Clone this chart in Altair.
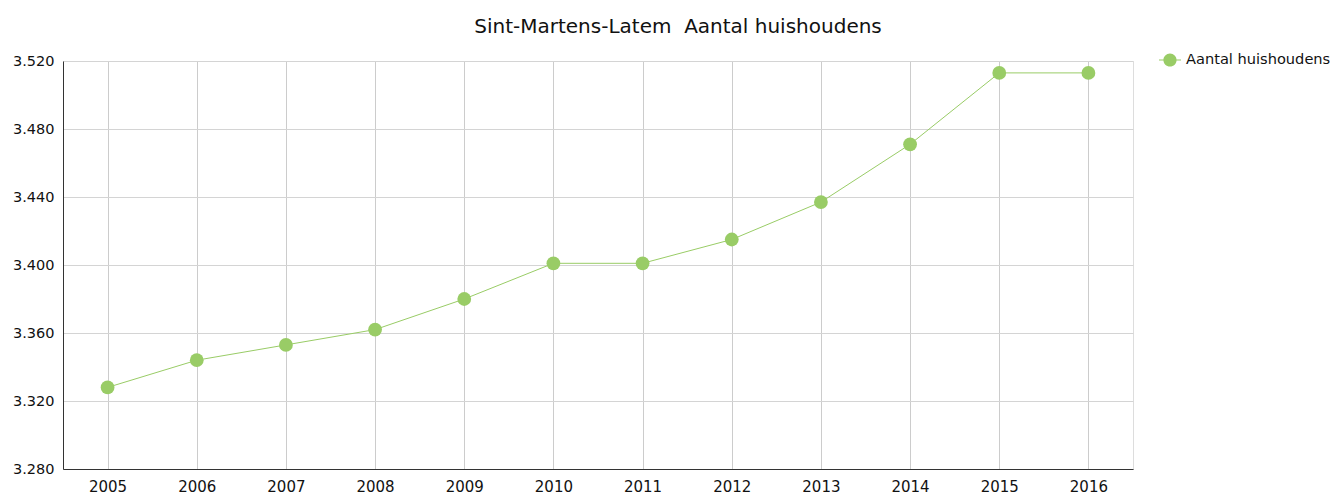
import altair as alt
import pandas as pd

years = ["2005", "2006", "2007", "2008", "2009", "2010", "2011", "2012", "2013", "2014", "2015", "2016"]
values = [3328, 3344, 3353, 3362, 3380, 3401, 3401, 3415, 3437, 3471, 3513, 3513]
series = ["Aantal huishoudens"] * len(years)

df = pd.DataFrame({"jaar": years, "waarde": values, "reeks": series})

green = "#99cc66"
font = "DejaVu Sans"

legend_symbol = ("M-1,-0.05 L1,-0.05 L1,0.05 L-1,0.05 Z "
                 "M0.6,0 A0.6,0.6 0 1,1 -0.6,0 A0.6,0.6 0 1,1 0.6,0 Z")

x = alt.X("jaar:O", title=None, sort=years,
          axis=alt.Axis(labelAngle=0, ticks=False, grid=True, gridColor="#cccccc",
                        domainColor="#333333", labelFont=font, labelFontSize=15,
                        labelColor="#111111", labelPadding=10))
y = alt.Y("waarde:Q", title=None,
          scale=alt.Scale(domain=[3280, 3520], nice=False, zero=False),
          axis=alt.Axis(values=[3280, 3320, 3360, 3400, 3440, 3480, 3520],
                        format=",.0f", ticks=False, grid=True, gridColor="#d4d4d4",
                        domainColor="#333333", labelFont=font, labelFontSize=14.5,
                        labelColor="#111111", labelPadding=9))
color = alt.Color("reeks:N", scale=alt.Scale(range=[green]),
                  legend=alt.Legend(title=None, orient="none", legendX=1096, legendY=-12,
                                    symbolType=legend_symbol, symbolSize=484,
                                    symbolStrokeWidth=0, symbolFillColor=green,
                                    labelFont=font, labelFontSize=14.6, labelColor="#111111",
                                    labelOffset=5, labelLimit=300))

base = alt.Chart(df)
line = base.mark_line(color=green, strokeWidth=1).encode(x=x, y=y)
points = base.mark_circle(size=190, opacity=1).encode(x=x, y=y, color=color)

chart = alt.layer(line, points).properties(
    width=1070, height=408,
    title=alt.TitleParams("Sint-Martens-Latem\u00a0 Aantal huishoudens", font=font, fontSize=20,
                          fontWeight="normal", color="#111111", anchor="middle", dx=80, offset=12),
    autosize=alt.AutoSizeParams(type="none"),
    padding={"left": 55, "top": 53, "right": 201, "bottom": 29},
).configure_view(stroke=None).configure(locale={"number": {"decimal": ",", "thousands": ".", "grouping": [3], "currency": ["€", ""]}})

chart.save("out.html", embed_options={"renderer": "svg", "actions": False})
